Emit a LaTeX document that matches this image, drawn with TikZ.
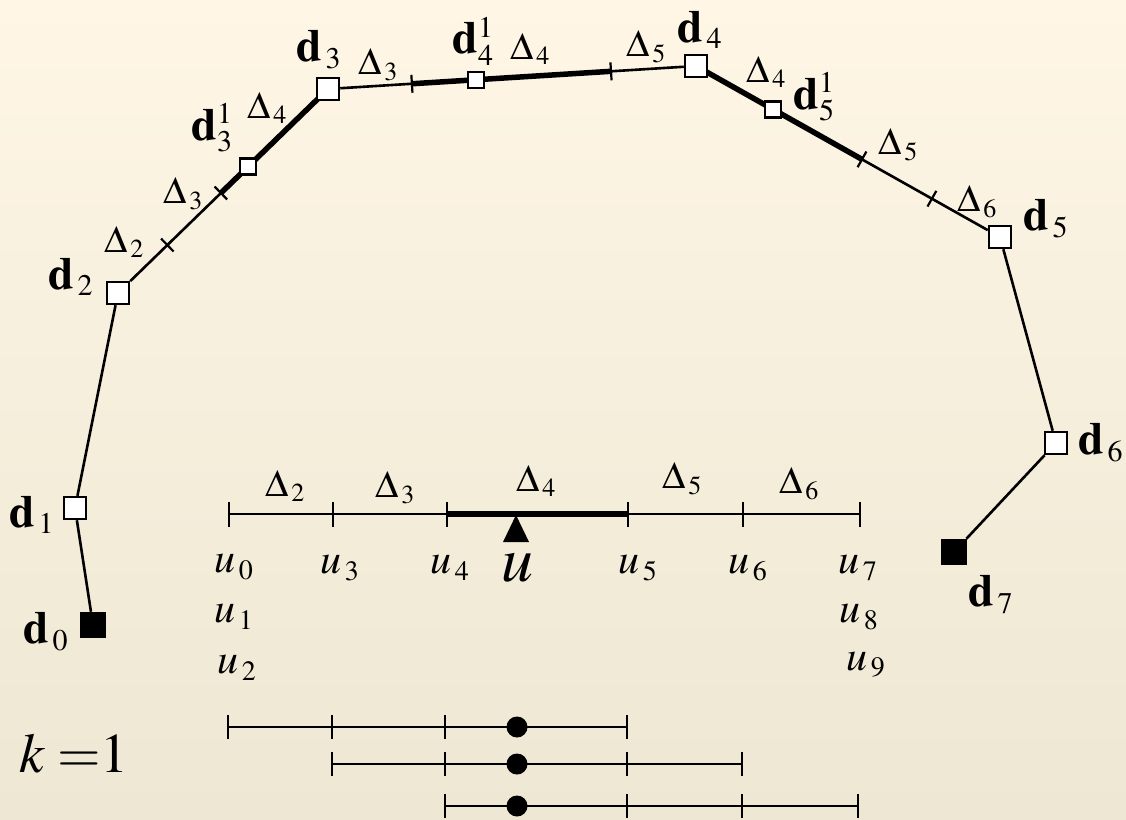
\documentclass[tikz,border=0pt]{standalone}
\usepackage{mathptmx}
\usepackage{tikz}
\usetikzlibrary{calc}
\DeclareMathSizes{46}{46}{30}{22}
\DeclareMathSizes{38}{38}{26}{18}
\DeclareMathSizes{42}{42}{28}{20}
\DeclareMathSizes{64}{64}{40}{30}
\DeclareMathSizes{56}{56}{36}{28}

\definecolor{papertop}{RGB}{255,246,229}
\definecolor{paperbot}{RGB}{237,231,211}

\tikzset{
  ctrl/.style={draw, fill=white, line width=2.5pt, minimum size=22pt, inner sep=0pt},
  knot/.style={ctrl, minimum size=16pt},
  endpt/.style={ctrl, fill=black, minimum size=24pt},
  poly/.style={line width=2.6pt},
  active/.style={line width=5.5pt},
  tick/.style={line width=2.2pt},
  dlbl/.style={font=\fontsize{46}{50}\selectfont, inner sep=0pt},
  glbl/.style={font=\fontsize{38}{42}\selectfont, inner sep=0pt},
  ulbl/.style={font=\fontsize{42}{46}\selectfont, inner sep=0pt}
}

\begin{document}
\begin{tikzpicture}[x=1pt, y=-1pt]
\useasboundingbox[top color=papertop, bottom color=paperbot] (0,0) rectangle (1126,819);

% control polygon
\node[endpt] (d0) at (93,625) {};
\node[ctrl] (d1) at (75,508) {};
\node[ctrl] (d2) at (118,293) {};
\node[ctrl] (d3) at (328,89) {};
\node[ctrl] (d4) at (696,66) {};
\node[ctrl] (d5) at (1000,237) {};
\node[ctrl] (d6) at (1056,443) {};
\node[endpt] (d7) at (954,552) {};

\coordinate (t1) at ($(d2)!0.235!(d3)$);
\coordinate (t2) at ($(d2)!0.49!(d3)$);
\coordinate (t3) at ($(d3)!0.228!(d4)$);
\coordinate (t4) at ($(d3)!0.769!(d4)$);
\coordinate (t5) at ($(d4)!0.546!(d5)$);
\coordinate (t6) at ($(d4)!0.776!(d5)$);

\draw[poly] (d0) -- (d1) -- (d2) -- (d3) -- (d4) -- (d5) -- (d6) -- (d7);
\draw[active] (t2) -- (d3.center);
\draw[active] (t3) -- (t4);
\draw[active] (d4.center) -- (t5);
\foreach \t/\e in {t1/d3, t2/d3, t3/d4, t4/d4, t5/d5, t6/d5}
  \draw[tick] ($(\t)!9pt!90:(\e)$) -- ($(\t)!9pt!-90:(\e)$);

\node[ctrl] at (d3) {};
\node[ctrl] at (d4) {};
\node[knot] (d31) at ($(d2)!0.62!(d3)$) {};
\node[knot] (d41) at ($(d3)!0.402!(d4)$) {};
\node[knot] (d51) at ($(d4)!0.253!(d5)$) {};

% point labels
\node[dlbl] (ld0) at (46,632) {$\mathbf{d}_{\,0}$};
\node[dlbl] (ld1) at (32,515) {$\mathbf{d}_{\,1}$};
\node[dlbl] (ld2) at (71,277) {$\mathbf{d}_{\,2}$};
\node[dlbl] (ld3) at (319,50) {$\mathbf{d}_{\,3}$};
\node[dlbl] (ld4) at (700,30) {$\mathbf{d}_{\,4}$};
\node[dlbl] (ld5) at (1046,219) {$\mathbf{d}_{\,5}$};
\node[dlbl] (ld6) at (1101,443) {$\mathbf{d}_{\,6}$};
\node[dlbl] (ld7) at (991,595) {$\mathbf{d}_{\,7}$};
\node[dlbl] (ld31) at (212,128) {$\mathbf{d}_3^1$};
\node[dlbl] (ld41) at (473,41) {$\mathbf{d}_4^1$};
\node[dlbl] (ld51) at (814,97) {$\mathbf{d}_5^1$};

\node[glbl] (g1) at (124,242) {$\Delta_{\,2}$};
\node[glbl] (g2) at (183,194) {$\Delta_{\,3}$};
\node[glbl] (g3) at (267,108) {$\Delta_{\,4}$};
\node[glbl] (g4) at (378,65) {$\Delta_{\,3}$};
\node[glbl] (g5) at (530,49) {$\Delta_{\,4}$};
\node[glbl] (g6) at (646,47) {$\Delta_{\,5}$};
\node[glbl] (g7) at (766,72) {$\Delta_{\,4}$};
\node[glbl] (g8) at (898,145) {$\Delta_{\,5}$};
\node[glbl] (g9) at (977,202) {$\Delta_{\,6}$};

% knot vector
\coordinate (k0) at (229,514);
\coordinate (k1) at (333,514);
\coordinate (k2) at (447,514);
\coordinate (k3) at (628,514);
\coordinate (k4) at (743,514);
\coordinate (k5) at (860,514);
\draw[poly] (k0) -- (k5);
\draw[active] (k2) -- (k3);
\foreach \k in {k0,k1,k2,k3,k4,k5}
  \draw[tick, line width=2.5pt] ($(\k)+(0,-12)$) -- ($(\k)+(0,13)$);
\coordinate (upar) at (516,515);
\fill (upar) -- ++(-13,27) -- ++(26,0) -- cycle;
\node[font=\fontsize{64}{68}\selectfont, inner sep=0pt] (ubig) at (517,568) {$u$};

\node[glbl] (i2) at (285,486) {$\Delta_{\,2}$};
\node[glbl] (i3) at (395,488) {$\Delta_{\,3}$};
\node[glbl] (i4) at (536,481) {$\Delta_{\,4}$};
\node[glbl] (i5) at (682,479) {$\Delta_{\,5}$};
\node[glbl] (i6) at (799,484) {$\Delta_{\,6}$};

\node[ulbl] (u0) at (234,567) {$u_{\,0}$};
\node[ulbl] (u1) at (234,617) {$u_{\,1}$};
\node[ulbl] (u2) at (237,668) {$u_{\,2}$};
\node[ulbl] (u3) at (340,568) {$u_{\,3}$};
\node[ulbl] (u4) at (450,568) {$u_{\,4}$};
\node[ulbl] (u5) at (638,568) {$u_{\,5}$};
\node[ulbl] (u6) at (748,568) {$u_{\,6}$};
\node[ulbl] (u7) at (858,568) {$u_{\,7}$};
\node[ulbl] (u8) at (859,617) {$u_{\,8}$};
\node[ulbl] (u9) at (866,665) {$u_{\,9}$};

% supports of the basis functions, k=1
\node[font=\fontsize{56}{60}\selectfont, inner sep=0pt] (kk) at (74,754) {$k\;{=}1$};
\foreach \y/\a/\b/\c/\d in {727/228/332/445/627, 764/332/445/627/742, 806/445/627/742/858}{
  \draw[poly] (\a,\y) -- (\d,\y);
  \foreach \x in {\a,\b,\c,\d}
    \draw[tick, line width=2.5pt] (\x,\y-12) -- (\x,\y+12);
  \fill (517,\y) circle (10.5);
}
\end{tikzpicture}
\end{document}
